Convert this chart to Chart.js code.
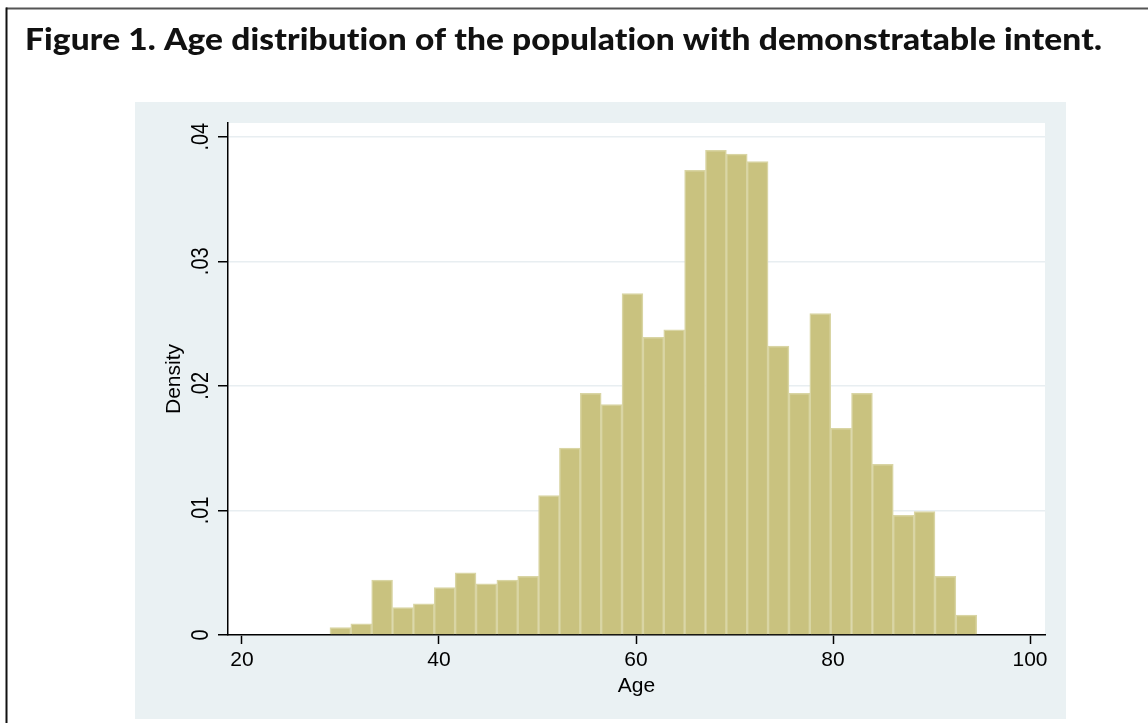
<!DOCTYPE html>
<html>
<head>
<meta charset="utf-8">
<script src="https://cdn.jsdelivr.net/npm/chart.js@4.4.1/dist/chart.umd.min.js"></script>
<style>
  html, body { margin: 0; padding: 0; background: #fff; }
  #wrap { width: 1148px; height: 723px; position: relative; }
</style>
</head>
<body>
<div id="wrap"><canvas id="histChart"></canvas></div>
<script>
// bin centres (years) and bar heights
var ageBins = [29.989, 32.107, 34.225, 36.343, 38.461, 40.579, 42.697, 44.815, 46.933, 49.051,
               51.169, 53.287, 55.405, 57.523, 59.641, 61.759, 63.877, 65.995, 68.113, 70.231,
               72.349, 74.467, 76.585, 78.703, 80.821, 82.939, 85.057, 87.175, 89.293, 91.411, 93.529];
var density = [0.0006, 0.0009, 0.0044, 0.0022, 0.0025, 0.0038, 0.0050, 0.0041, 0.0044, 0.0047,
               0.0112, 0.0150, 0.0194, 0.0185, 0.0274, 0.0239, 0.0245, 0.0373, 0.0389, 0.0386,
               0.0380, 0.0232, 0.0194, 0.0258, 0.0166, 0.0194, 0.0137, 0.0096, 0.0099, 0.0047, 0.0016];
var xTicks = [20, 40, 60, 80, 100];
var yTicks = [0, 0.01, 0.02, 0.03, 0.04];
var yTickLabels = ['0', '.01', '.02', '.03', '.04'];
var titleText = 'Figure 1. Age distribution of the population with demonstratable intent.';

var axisFont = '"Liberation Sans", Arial, sans-serif';

// background frame, grey panel, white plot region, title, rotated y labels
var stataLook = {
    id: 'stataLook',
    beforeDraw: function (chart) {
        var ctx = chart.ctx, a = chart.chartArea;
        ctx.save();
        ctx.fillStyle = '#fff';
        ctx.fillRect(0, 0, chart.width, chart.height);
        ctx.fillStyle = '#EAF1F3';
        ctx.fillRect(135, 102, 931, 617);
        ctx.fillStyle = '#fff';
        ctx.fillRect(a.left, a.top, a.right - a.left, a.bottom - a.top);
        // frame (cropped: only top and left visible)
        ctx.fillStyle = '#555';
        ctx.fillRect(6, 7.5, chart.width - 6, 2);
        ctx.fillStyle = '#111';
        ctx.fillRect(5.5, 7.5, 2, chart.height);
        // title
        ctx.font = '900 30px Lato, "Noto Sans", sans-serif';
        ctx.letterSpacing = '0.1px';
        ctx.fillStyle = '#111';
        ctx.textBaseline = 'alphabetic';
        var w = ctx.measureText(titleText).width;
        ctx.translate(25, 50);
        ctx.scale(1077 / w, 1);
        ctx.fillText(titleText, 0, 0);
        ctx.restore();
    },
    afterDraw: function (chart) {
        var ctx = chart.ctx, ys = chart.scales.y;
        ctx.save();
        ctx.font = '20px ' + axisFont;
        ctx.fillStyle = '#000';
        ctx.textAlign = 'center';
        ctx.textBaseline = 'alphabetic';
        yTicks.forEach(function (v, i) {
            var py = ys.getPixelForValue(v);
            ctx.save();
            ctx.translate(208, py);
            ctx.rotate(-Math.PI / 2);
            ctx.scale(1, 1.17);
            ctx.fillText(yTickLabels[i], 0, 0);
            ctx.restore();
        });
        ctx.restore();
    }
};

var ctx = document.getElementById('histChart').getContext('2d');
new Chart(ctx, {
    type: 'bar',
    data: {
        datasets: [{
            label: 'Density',
            data: ageBins.map(function (a, i) { return { x: a, y: density[i] }; }),
            backgroundColor: '#C9C27F',
            borderColor: '#D9D5A4',
            borderWidth: 1.5,
            barPercentage: 1,
            categoryPercentage: 1
        }]
    },
    options: {
        responsive: true,
        maintainAspectRatio: false,
        animation: false,
        layout: { padding: { top: 123, right: 103, left: 0, bottom: 0 } },
        plugins: {
            legend: { display: false },
            title: { display: false },
            tooltip: { enabled: false }
        },
        scales: {
            x: {
                type: 'linear',
                min: 18.58,
                max: 101.52,
                offset: false,
                afterBuildTicks: function (scale) {
                    scale.ticks = xTicks.map(function (v) { return { value: v }; });
                },
                afterFit: function (scale) { scale.height = 88; },
                grid: {
                    offset: false,
                    drawOnChartArea: false,
                    tickLength: 9,
                    tickColor: '#000',
                    tickWidth: 1.5
                },
                border: { display: true, color: '#000', width: 1.5 },
                ticks: {
                    padding: 4,
                    maxRotation: 0,
                    color: '#000',
                    font: { family: axisFont, size: 21 }
                },
                title: {
                    display: true,
                    text: 'Age',
                    color: '#000',
                    font: { family: axisFont, size: 21 },
                    padding: { top: 0, bottom: 24 }
                }
            },
            y: {
                min: 0,
                max: 0.0411,
                afterBuildTicks: function (scale) {
                    scale.ticks = yTicks.map(function (v) { return { value: v }; });
                },
                afterFit: function (scale) { scale.width = 228; },
                grid: {
                    color: '#E8EEF1',
                    lineWidth: 1.5,
                    tickLength: 10,
                    tickColor: '#000',
                    tickWidth: 1.5
                },
                border: { display: true, color: '#000', width: 1.5 },
                ticks: { display: false },
                title: {
                    display: true,
                    text: 'Density',
                    color: '#000',
                    font: { family: axisFont, size: 21 },
                    padding: { top: 162, bottom: 0 }
                }
            }
        }
    },
    plugins: [stataLook]
});
</script>
</body>
</html>
